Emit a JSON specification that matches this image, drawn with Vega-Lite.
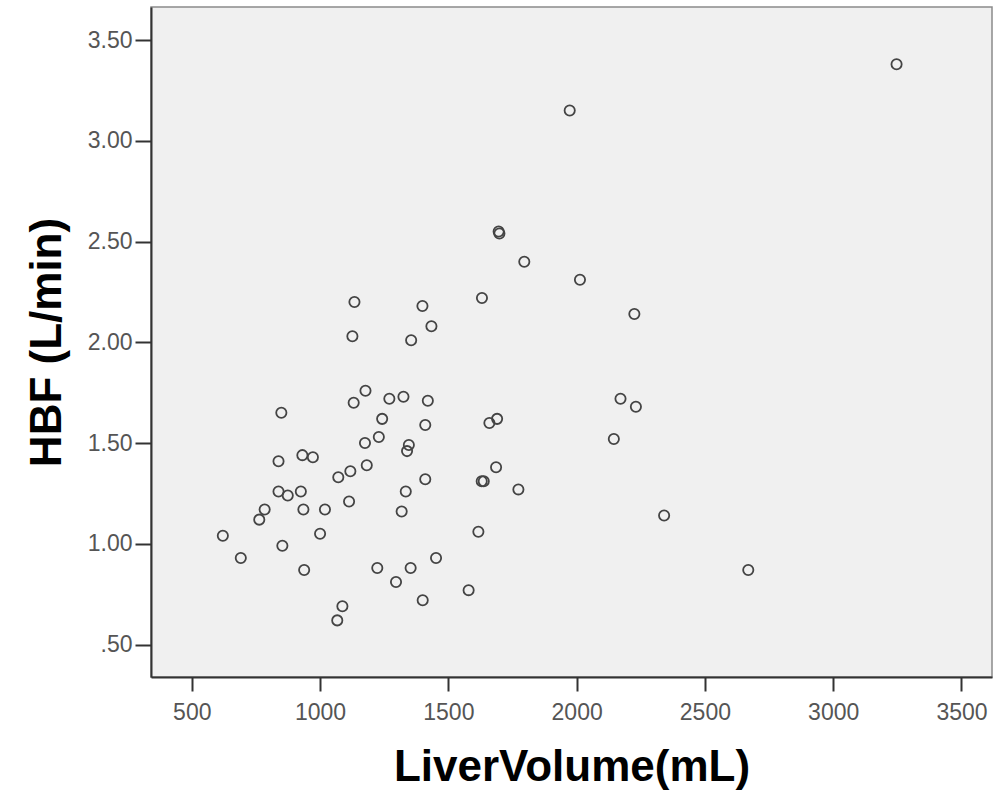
{
  "$schema": "https://vega.github.io/schema/vega-lite/v6.json",
  "width": 841,
  "height": 670,
  "autosize": {"type": "none"},
  "padding": {"left": 151, "top": 7, "right": 5, "bottom": 115},
  "background": "#ffffff",
  "config": {
    "view": {"fill": "#f0f0f0", "stroke": "#8a8a8a", "strokeWidth": 1.5},
    "axis": {
      "grid": false,
      "domainColor": "#333333",
      "domainWidth": 2,
      "tickColor": "#333333",
      "tickWidth": 2,
      "labelFont": "Liberation Sans",
      "labelColor": "#555555",
      "labelFontSize": 23,
      "titleFont": "Liberation Sans",
      "titleFontWeight": "bold",
      "titleFontSize": 44,
      "titleColor": "#000000"
    }
  },
  "data": {
    "values": [
      {"LiverVolume": 1126, "HBF": 2.03}, {"LiverVolume": 1355, "HBF": 2.01}, {"LiverVolume": 1434, "HBF": 2.08},
      {"LiverVolume": 1177, "HBF": 1.76}, {"LiverVolume": 1131, "HBF": 1.70}, {"LiverVolume": 1270, "HBF": 1.72},
      {"LiverVolume": 1325, "HBF": 1.73}, {"LiverVolume": 1420, "HBF": 1.71}, {"LiverVolume": 849, "HBF": 1.65},
      {"LiverVolume": 1242, "HBF": 1.62}, {"LiverVolume": 1410, "HBF": 1.59}, {"LiverVolume": 1690, "HBF": 1.62},
      {"LiverVolume": 1660, "HBF": 1.60}, {"LiverVolume": 1229, "HBF": 1.53}, {"LiverVolume": 1175, "HBF": 1.50},
      {"LiverVolume": 1346, "HBF": 1.49}, {"LiverVolume": 1339, "HBF": 1.46}, {"LiverVolume": 838, "HBF": 1.41},
      {"LiverVolume": 931, "HBF": 1.44}, {"LiverVolume": 972, "HBF": 1.43}, {"LiverVolume": 1182, "HBF": 1.39},
      {"LiverVolume": 1118, "HBF": 1.36}, {"LiverVolume": 1071, "HBF": 1.33}, {"LiverVolume": 1410, "HBF": 1.32},
      {"LiverVolume": 1686, "HBF": 1.38}, {"LiverVolume": 1630, "HBF": 1.31}, {"LiverVolume": 1638, "HBF": 1.31},
      {"LiverVolume": 1773, "HBF": 1.27}, {"LiverVolume": 838, "HBF": 1.26}, {"LiverVolume": 874, "HBF": 1.24},
      {"LiverVolume": 925, "HBF": 1.26}, {"LiverVolume": 1334, "HBF": 1.26}, {"LiverVolume": 1113, "HBF": 1.21},
      {"LiverVolume": 784, "HBF": 1.17}, {"LiverVolume": 763, "HBF": 1.12}, {"LiverVolume": 935, "HBF": 1.17},
      {"LiverVolume": 1019, "HBF": 1.17}, {"LiverVolume": 1318, "HBF": 1.16}, {"LiverVolume": 621, "HBF": 1.04},
      {"LiverVolume": 1000, "HBF": 1.05}, {"LiverVolume": 1617, "HBF": 1.06}, {"LiverVolume": 853, "HBF": 0.99},
      {"LiverVolume": 691, "HBF": 0.93}, {"LiverVolume": 1452, "HBF": 0.93}, {"LiverVolume": 938, "HBF": 0.87},
      {"LiverVolume": 1223, "HBF": 0.88}, {"LiverVolume": 1353, "HBF": 0.88}, {"LiverVolume": 1296, "HBF": 0.81},
      {"LiverVolume": 1400, "HBF": 0.72}, {"LiverVolume": 1579, "HBF": 0.77}, {"LiverVolume": 1087, "HBF": 0.69},
      {"LiverVolume": 1067, "HBF": 0.62},
      {"LiverVolume": 1696, "HBF": 2.55}, {"LiverVolume": 1699, "HBF": 2.54}, {"LiverVolume": 1796, "HBF": 2.40},
      {"LiverVolume": 1134, "HBF": 2.20}, {"LiverVolume": 1399, "HBF": 2.18}, {"LiverVolume": 1631, "HBF": 2.22},
      {"LiverVolume": 3247, "HBF": 3.38}, {"LiverVolume": 1973, "HBF": 3.15}, {"LiverVolume": 2013, "HBF": 2.31},
      {"LiverVolume": 2225, "HBF": 2.14}, {"LiverVolume": 2171, "HBF": 1.72}, {"LiverVolume": 2231, "HBF": 1.68},
      {"LiverVolume": 2145, "HBF": 1.52}, {"LiverVolume": 2341, "HBF": 1.14}, {"LiverVolume": 2669, "HBF": 0.87}
    ]
  },
  "mark": {"type": "point", "shape": "circle", "filled": false, "size": 105, "stroke": "#444444", "strokeWidth": 1.8, "opacity": 1},
  "encoding": {
    "x": {
      "field": "LiverVolume",
      "type": "quantitative",
      "scale": {"domain": [341, 3619], "nice": false, "zero": false},
      "axis": {
        "title": "LiverVolume(mL)",
        "values": [500, 1000, 1500, 2000, 2500, 3000, 3500],
        "format": "d",
        "tickSize": 14,
        "labelPadding": 10,
        "titlePadding": 21
      }
    },
    "y": {
      "field": "HBF",
      "type": "quantitative",
      "scale": {"domain": [0.339, 3.664], "nice": false, "zero": false},
      "axis": {
        "title": "HBF (L/min)",
        "values": [0.5, 1, 1.5, 2, 2.5, 3, 3.5],
        "labelExpr": "datum.value < 1 ? '.50' : format(datum.value, '.2f')",
        "tickSize": 16,
        "labelPadding": 3,
        "titlePadding": 18
      }
    }
  }
}
